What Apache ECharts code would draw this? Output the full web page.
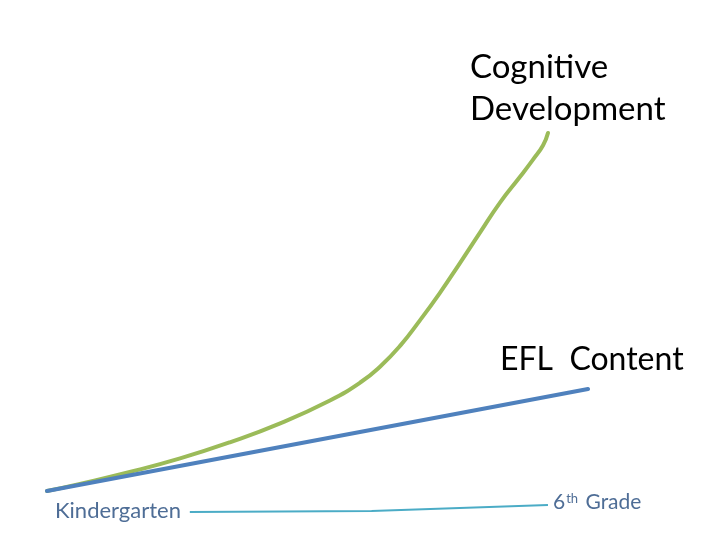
<!DOCTYPE html>
<html><head><meta charset="utf-8">
<script src="https://cdn.jsdelivr.net/npm/echarts@6/dist/echarts.min.js"></script>
<style>html,body{margin:0;padding:0;background:#fff}#c{width:720px;height:540px}</style>
</head><body><div id="c"></div>
<script>
// Progress (0 = Kindergarten, 100 = end of scale)
const cognitiveX = [0, 6.1, 15.3, 24.6, 33.8, 43.1, 52.3, 57.9, 61.6, 65.3, 68.9, 72.6, 76.3, 80.0, 83.7, 87.4, 89.8, 91.7, 92.6];
const cognitiveY = [0, 2.0, 5.3, 9.1, 13.6, 18.9, 25.3, 30.3, 34.8, 40.6, 47.6, 55.3, 63.6, 72.1, 80.5, 87.7, 92.5, 96.6, 100];
const eflX = [0, 100];
const eflY = [0, 28.5];
const timelineX = [26.4, 60, 92.6];
const timelineY = [-5.9, -5.6, -3.9];
const labels = { cognitive: 'Cognitive\nDevelopment', efl: 'EFL  Content', start: 'Kindergarten', end: '6th Grade' };

const zip = (a, b) => a.map((v, i) => [v, b[i]]);
const font = 'Lato, "Open Sans", sans-serif';
const chart = echarts.init(document.getElementById('c'));
chart.setOption({
  animation: false,
  grid: { left: 47, right: 132, top: 133, bottom: 49 },
  xAxis: { type: 'value', min: 0, max: 100, show: false },
  yAxis: { type: 'value', min: 0, max: 100, show: false },
  series: [
    { type: 'line', data: zip(cognitiveX, cognitiveY), smooth: 0.5, symbol: 'none', clip: false,
      lineStyle: { color: '#9bbb59', width: 4, cap: 'round', join: 'round' } },
    { type: 'line', data: zip(eflX, eflY), symbol: 'none', clip: false,
      lineStyle: { color: '#4f81bd', width: 4, cap: 'round' } },
    { type: 'line', data: zip(timelineX, timelineY), symbol: 'none', clip: false,
      lineStyle: { color: '#4bacc6', width: 2 },
      markPoint: { symbol: 'circle', symbolSize: 5, itemStyle: { color: '#4bacc6' }, label: { show: false },
        data: [{ coord: [timelineX[timelineX.length - 1], timelineY[timelineY.length - 1]] }] } }
  ],
  graphic: [
    { type: 'text', left: 470, top: 46, style: { text: labels.cognitive, font: '33px ' + font, fill: '#000', lineHeight: 42 } },
    { type: 'text', left: 500, top: 344, style: { text: labels.efl, font: '32px ' + font, fill: '#000' } },
    { type: 'text', left: 55, top: 500, style: { text: labels.start, font: '22px ' + font, fill: '#4e6d96' } },
    { type: 'text', left: 553, top: 492, style: { text: '{a|6}{s|th}{a| Grade}', font: '21px ' + font, fill: '#4e6d96',
      rich: { a: { fontSize: 21, fontFamily: 'Lato', color: '#4e6d96', verticalAlign: 'bottom' }, s: { fontSize: 13, fontFamily: 'Lato', color: '#4e6d96', padding: [0, 2, 8, 1] } } } }
  ]
});
</script></body></html>
